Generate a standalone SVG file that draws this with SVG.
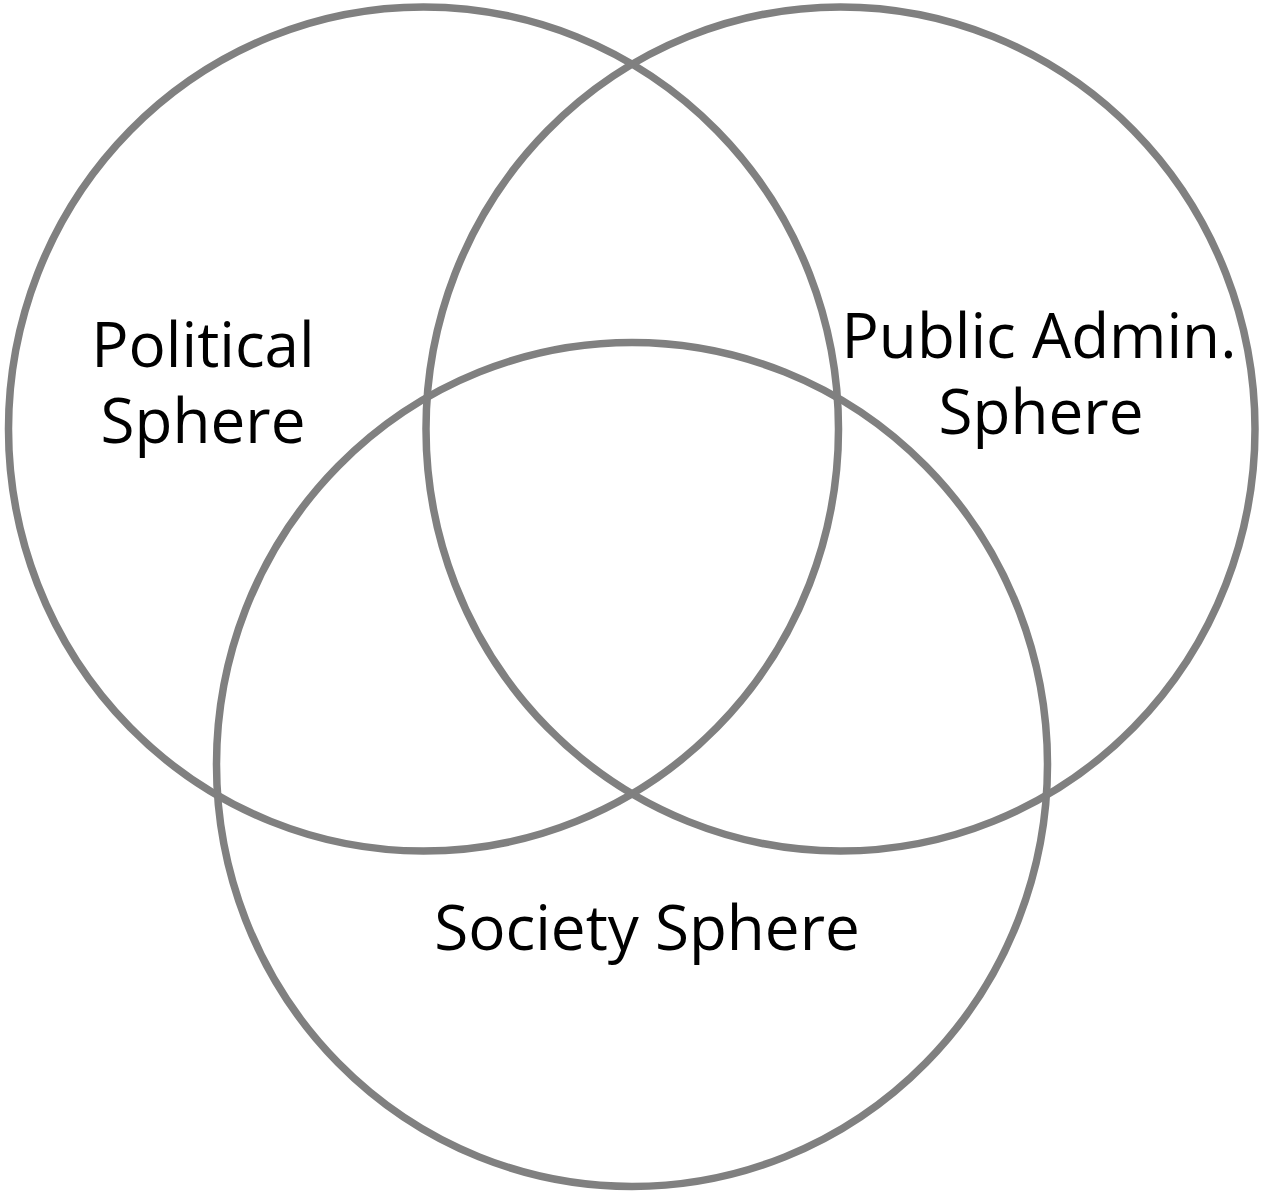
<svg xmlns="http://www.w3.org/2000/svg" width="1264" height="1192" viewBox="0 0 1264 1192">
<style>
.ring{fill:none;stroke:#808080;stroke-width:7.5}
.lbl{font-family:"Open Sans","Liberation Sans",sans-serif;font-size:62px;fill:#000;text-anchor:middle}
</style>
<rect width="1264" height="1192" fill="#fff"/>
<g id="political">
<ellipse class="ring" cx="423.5" cy="429" rx="415" ry="422"/>
<text class="lbl" x="203" y="367">Political</text>
<text class="lbl" x="203" y="443">Sphere</text>
</g>
<g id="public-admin">
<ellipse class="ring" cx="840.5" cy="429" rx="414.5" ry="422"/>
<text class="lbl" x="1039" y="358">Public Admin.</text>
<text class="lbl" x="1041" y="434">Sphere</text>
</g>
<g id="society">
<ellipse class="ring" cx="632" cy="764.5" rx="415.5" ry="422"/>
<text class="lbl" x="647" y="950">Society Sphere</text>
</g>
<g id="connectors"/>
</svg>
